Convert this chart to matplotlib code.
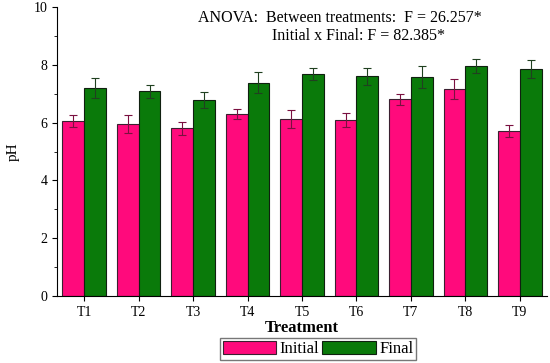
import numpy as np
import matplotlib.pyplot as plt
from matplotlib.ticker import MultipleLocator

plt.rcParams['font.family'] = ['Liberation Serif', 'DejaVu Serif']

treatments = ['T1', 'T2', 'T3', 'T4', 'T5', 'T6', 'T7', 'T8', 'T9']
initial = [6.05, 5.95, 5.80, 6.30, 6.12, 6.09, 6.80, 7.17, 5.70]
initial_err = [0.20, 0.30, 0.22, 0.18, 0.30, 0.24, 0.18, 0.34, 0.20]
final = [7.20, 7.08, 6.79, 7.38, 7.68, 7.60, 7.58, 7.96, 7.86]
final_err = [0.35, 0.22, 0.28, 0.37, 0.22, 0.30, 0.38, 0.23, 0.30]

x = np.arange(1, len(treatments) + 1)
w = 0.4

fig = plt.figure(figsize=(5.5, 3.63), dpi=100)
ax = fig.add_axes([57/550, 1 - 296/363, 490/550, 289/363])

ax.bar(x - w/2, initial, w, color='#ff0a7c', edgecolor='#3a2030', linewidth=0.8,
       yerr=initial_err, error_kw=dict(ecolor='#7a1040', elinewidth=0.8, capsize=3, capthick=0.8),
       label='Initial')
ax.bar(x + w/2, final, w, color='#0a7a0a', edgecolor='#102010', linewidth=0.8,
       yerr=final_err, error_kw=dict(ecolor='#204020', elinewidth=0.8, capsize=3, capthick=0.8),
       label='Final')

ax.set_xlim(0.5, 9.5)
ax.set_ylim(0, 10)
ax.set_xticks(x)
ax.set_xticklabels(treatments, fontsize=10)
ax.yaxis.set_major_locator(MultipleLocator(2))
ax.yaxis.set_minor_locator(MultipleLocator(1))
ax.tick_params(axis='y', labelsize=10, direction='out')
ax.tick_params(axis='x', direction='out')
ax.spines['top'].set_visible(False)
ax.spines['right'].set_visible(False)

ax.set_ylabel('pH', fontsize=11, labelpad=10)
ax.set_xlabel('Treatment', fontsize=12, fontweight='bold', labelpad=1)

fig.text(198/550, 1 - 18/363, 'ANOVA:  Between treatments:  F = 26.257*', fontsize=11.5, va='center')
fig.text(272/550, 1 - 36/363, 'Initial x Final: F = 82.385*', fontsize=11.5, va='center')

fig.legend(loc='center', bbox_to_anchor=(318/550, 1 - 349/363), ncol=2, fontsize=12,
           frameon=True, fancybox=False, edgecolor='#555555', handlelength=3.2,
           handleheight=0.8, handletextpad=0.2, columnspacing=0.2, borderpad=0.15,
           borderaxespad=0)

fig.savefig('out.png', dpi=100)
